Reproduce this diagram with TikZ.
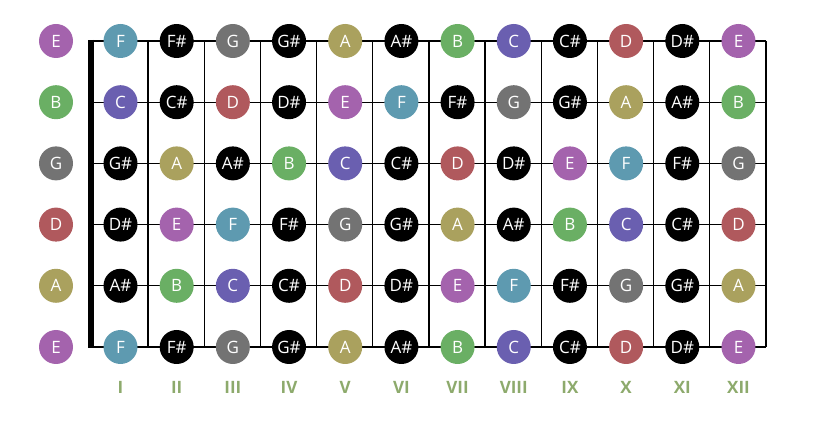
\documentclass[tikz,border=0pt]{standalone}
\usepackage{fontspec}
\setmainfont{Open Sans}
\usetikzlibrary{positioning}

% colours of the twelve pitch classes, C = 0
\definecolor{pc0}{HTML}{6A5FB0}  % C
\colorlet{pc1}{black}            % C#
\definecolor{pc2}{HTML}{B0595D}  % D
\colorlet{pc3}{black}            % D#
\definecolor{pc4}{HTML}{A463AD}  % E
\definecolor{pc5}{HTML}{5E9AB0}  % F
\colorlet{pc6}{black}            % F#
\definecolor{pc7}{HTML}{737373}  % G
\colorlet{pc8}{black}            % G#
\definecolor{pc9}{HTML}{AAA15E}  % A
\colorlet{pc10}{black}           % A#
\definecolor{pc11}{HTML}{6AAF64} % B
\definecolor{labelgreen}{HTML}{8DAA6C}

\newcommand{\notename}[1]{\ifcase#1 C\or C\#\or D\or D\#\or E\or F\or F\#\or G\or G\#\or A\or A\#\or B\fi}

\begin{document}
\begin{tikzpicture}[
    x=1pt, y=-1pt,
    note/.style={circle, minimum size=34pt, inner sep=0pt, text=white, font=\fontsize{17}{17}\selectfont}, % Style for note dots
    stringline/.style={line width=1.3pt}, % Style for strings
    fretline/.style={line width=1.2pt}, % Style for frets
    nutline/.style={line width=6pt}, % Style for the nut
    fretlabel/.style={text=labelgreen, font=\bfseries\fontsize{17}{17}\selectfont} % Style for fret numbers
]
    \useasboundingbox (0,0) rectangle (823,422);

    % --- Strings ---
    \foreach \s in {0,...,5} {
        \coordinate (sl\s) at (92, 41+61.2*\s);
        \coordinate (sr\s) at (766, 41+61.2*\s);
        \draw[stringline] (sl\s) -- (sr\s);
    }

    % --- Frets ---
    \foreach \f in {1,...,12} {
        \coordinate (ft\f) at (148+56.18*\f-56.18, 41);
        \coordinate (fb\f) at (148+56.18*\f-56.18, 347);
        \draw[fretline] (ft\f) -- (fb\f);
    }

    % --- Nut ---
    \coordinate (nuttop) at (91, 40);
    \coordinate (nutbot) at (91, 348);
    \draw[nutline] (nuttop) -- (nutbot);

    % --- Notes: open string, then frets I to XII ---
    \foreach \o [count=\s from 0] in {4,11,7,2,9,4} {
        \node[note, fill=pc\o] (open\s) at (56, 41+61.2*\s) {\notename{\o}};
        \foreach \f in {1,...,12} {
            \pgfmathtruncatemacro\p{mod(\o+\f,12)}
            \node[note, fill=pc\p] (n\s-\f) at (120.5+56.18*\f-56.18, 41+61.2*\s) {\notename{\p}};
        }
    }

    % --- Fret numbers ---
    \foreach \r [count=\f] in {I,II,III,IV,V,VI,VII,VIII,IX,X,XI,XII}
        \node[fretlabel] (lab\f) at (120.5+56.18*\f-56.18, 387) {\r};

\end{tikzpicture}
\end{document}
